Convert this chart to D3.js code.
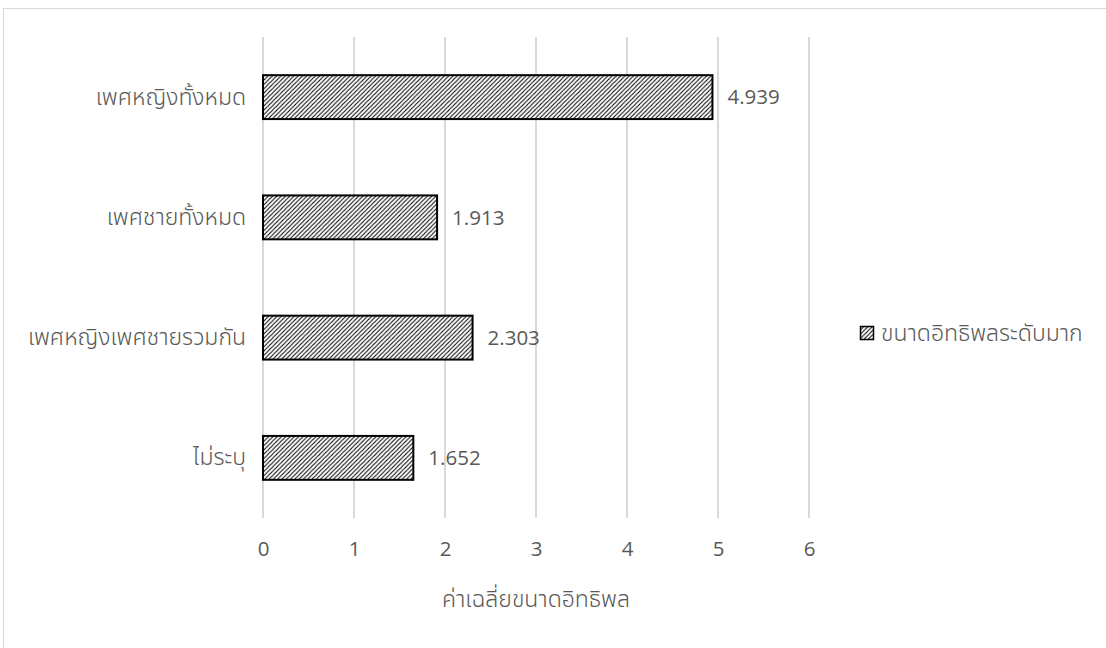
<!DOCTYPE html>
<html>
<head>
<meta charset="utf-8">
<script src="https://cdn.jsdelivr.net/npm/d3@7"></script>
<style>
  html, body { margin: 0; padding: 0; background: #fff; }
  svg { display: block; }
  .thai { font-family: "Noto Sans Thai", "Open Sans", "Noto Sans", sans-serif; font-weight: 300; }
  .num { font-family: "Open Sans", "Noto Sans", sans-serif; }
</style>
</head>
<body>
<svg id="chart" width="1106" height="648"></svg>
<script>
// Average effect size by group
const categories = ["เพศหญิงทั้งหมด", "เพศชายทั้งหมด", "เพศหญิงเพศชายรวมกัน", "ไม่ระบุ"];
const values = [4.939, 1.913, 2.303, 1.652];
const xTicks = [0, 1, 2, 3, 4, 5, 6];
const seriesName = "ขนาดอิทธิพลระดับมาก";
const xTitle = "ค่าเฉลี่ยขนาดอิทธิพล";

const svg = d3.select("#chart");
const textColor = "#595959";
const gridColor = "#d9d9d9";
const thaiSize = 23;
const numSize = 20.5;

// chart frame
svg.append("rect")
  .attr("x", 3.5).attr("y", 8.5)
  .attr("width", 1120).attr("height", 660)
  .attr("fill", "#fff").attr("stroke", gridColor).attr("stroke-width", 1);

// diagonal hatch fill
const defs = svg.append("defs");
const pat = defs.append("pattern")
  .attr("id", "hatch")
  .attr("patternUnits", "userSpaceOnUse")
  .attr("width", 4.3).attr("height", 4.3);
pat.append("rect").attr("width", 4.3).attr("height", 4.3).attr("fill", "#fff");
pat.append("path")
  .attr("d", "M-1,1 L1,-1 M0,4.3 L4.3,0 M3.3,5.3 L5.3,3.3")
  .attr("stroke", "#000").attr("stroke-width", 1.05);

const plot = { left: 263, right: 809, top: 37, bottom: 518 };

const x = d3.scaleLinear().domain([0, 6]).range([plot.left, plot.right]);
const y = d3.scaleBand().domain(categories).range([plot.top, plot.bottom]).paddingInner(0.635).paddingOuter(0.3175);

// vertical gridlines
svg.append("g").selectAll("line")
  .data(xTicks).join("line")
  .attr("x1", d => x(d)).attr("x2", d => x(d))
  .attr("y1", plot.top).attr("y2", plot.bottom)
  .attr("stroke", gridColor).attr("stroke-width", 2);

// x tick labels
const xAxis = svg.append("g")
  .attr("transform", `translate(0,${plot.bottom})`)
  .call(d3.axisBottom(x).tickValues(xTicks).tickSize(0).tickPadding(23).tickFormat(d3.format("d")));
xAxis.select(".domain").remove();
xAxis.attr("font-family", null);
xAxis.selectAll("text").attr("class", "num").attr("fill", textColor).attr("font-size", numSize);

// category labels
const yAxis = svg.append("g")
  .attr("transform", `translate(${plot.left},0)`)
  .call(d3.axisLeft(y).tickSize(0).tickPadding(17));
yAxis.select(".domain").remove();
yAxis.attr("font-family", null);
yAxis.selectAll("text").attr("class", "thai").attr("fill", textColor).attr("font-size", thaiSize);

// bars
svg.append("g").selectAll("rect")
  .data(categories.map((c, i) => ({ c, v: values[i] })))
  .join("rect")
  .attr("x", x(0))
  .attr("y", d => y(d.c))
  .attr("width", d => x(d.v) - x(0))
  .attr("height", y.bandwidth())
  .attr("fill", "url(#hatch)")
  .attr("stroke", "#000").attr("stroke-width", 2);

// value labels
svg.append("g").selectAll("text")
  .data(categories.map((c, i) => ({ c, v: values[i] })))
  .join("text")
  .attr("class", "num")
  .attr("x", d => x(d.v) + 15)
  .attr("y", d => y(d.c) + y.bandwidth() / 2)
  .attr("dy", "0.35em")
  .attr("fill", textColor).attr("font-size", numSize)
  .text(d => d3.format(".3f")(d.v));

// axis title
svg.append("text")
  .attr("class", "thai")
  .attr("x", (plot.left + plot.right) / 2)
  .attr("y", 599)
  .attr("dy", "0.35em")
  .attr("text-anchor", "middle")
  .attr("fill", textColor).attr("font-size", thaiSize)
  .text(xTitle);

// legend
const legend = svg.append("g").attr("transform", "translate(860,326)");
legend.append("rect")
  .attr("x", 0.5).attr("y", 0.5).attr("width", 13).attr("height", 13)
  .attr("fill", "url(#hatch)").attr("stroke", "#000").attr("stroke-width", 1.5);
legend.append("text")
  .attr("class", "thai")
  .attr("x", 21).attr("y", 7).attr("dy", "0.35em")
  .attr("fill", textColor).attr("font-size", thaiSize)
  .text(seriesName);
</script>
</body>
</html>
